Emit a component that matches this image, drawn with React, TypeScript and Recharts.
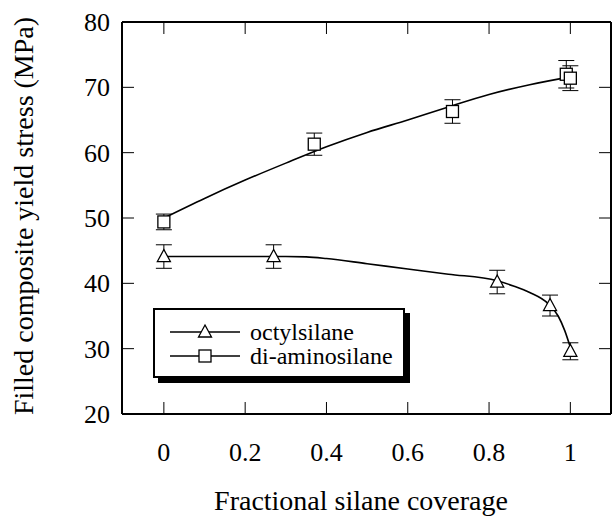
import React from 'react';
import { ComposedChart, Line, Scatter, ErrorBar, XAxis, YAxis } from 'recharts';

// measured points (fractional coverage, yield stress MPa, +/- error)
const octylX = [0, 0.27, 0.82, 0.95, 1.0];
const octylY = [44.1, 44.1, 40.2, 36.6, 29.6];
const octylErr = [1.8, 1.8, 1.8, 1.6, 1.3];

const aminoX = [0, 0.37, 0.71, 0.99, 1.0];
const aminoY = [49.4, 61.3, 66.3, 72.0, 71.4];
const aminoErr = [1.2, 1.7, 1.8, 2.1, 1.9];

// fitted curves
const octylFitX = [0, 0.1, 0.2, 0.3, 0.35, 0.4, 0.5, 0.6, 0.7, 0.82, 0.86, 0.9, 0.945, 0.97, 0.986, 1.0];
const octylFitY = [44.1, 44.1, 44.1, 44.1, 44.05, 43.8, 43.0, 42.2, 41.4, 40.4, 39.6, 38.6, 36.9, 35.0, 32.8, 30.2];

const aminoFitX = [0, 0.1, 0.2, 0.3, 0.4, 0.5, 0.6, 0.7, 0.8, 0.9, 1.0];
const aminoFitY = [50.0, 53.0, 55.8, 58.4, 60.9, 63.1, 65.0, 67.0, 68.9, 70.4, 71.6];

const xTicks = [0, 0.2, 0.4, 0.6, 0.8, 1];
const yTicks = [20, 30, 40, 50, 60, 70, 80];

const seriesNames = ['octylsilane', 'di-aminosilane'];
const xTitle = 'Fractional silane coverage';
const yTitle = 'Filled composite yield stress (MPa)';

const FONT = '"Liberation Serif", "Times New Roman", serif';

const octylPoints = octylX.map((x, i) => ({ x, y: octylY[i], err: octylErr[i] }));
const aminoPoints = aminoX.map((x, i) => ({ x, y: aminoY[i], err: aminoErr[i] }));
const octylFit = octylFitX.map((x, i) => ({ x, y: octylFitY[i] }));
const aminoFit = aminoFitX.map((x, i) => ({ x, y: aminoFitY[i] }));

const Triangle = ({ cx, cy }: any) => {
    if (cx == null || cy == null) return null;
    return <path d={`M${cx},${cy - 7} L${cx + 6.5},${cy + 5} L${cx - 6.5},${cy + 5} Z`} fill="#fff" stroke="#000" strokeWidth={1.3} />;
};

const Square = ({ cx, cy }: any) => {
    if (cx == null || cy == null) return null;
    return <rect x={cx - 6} y={cy - 6} width={12} height={12} fill="#fff" stroke="#000" strokeWidth={1.3} />;
};

const BottomTick = ({ x, y, payload }: any) => (
    <g>
        <line x1={x} y1={y} x2={x} y2={y - 12} stroke="#000" strokeWidth={1} />
        <text x={x} y={y + 47} textAnchor="middle" fontFamily={FONT} fontSize={26} fill="#000">{payload.value}</text>
    </g>
);

const TopTick = ({ x, y }: any) => <line x1={x} y1={y} x2={x} y2={y + 12} stroke="#000" strokeWidth={1} />;

const LeftTick = ({ x, y, payload }: any) => (
    <g>
        <line x1={x} y1={y} x2={x + 12} y2={y} stroke="#000" strokeWidth={1} />
        <text x={x - 12} y={y} dy="0.35em" textAnchor="end" fontFamily={FONT} fontSize={26} fill="#000">{payload.value}</text>
    </g>
);

const RightTick = ({ x, y }: any) => <line x1={x} y1={y} x2={x - 12} y2={y} stroke="#000" strokeWidth={1} />;

// legend drawn as a plain box over the plot, as in the figure
const LegendBox = () => (
    <div style={{ position: 'absolute', left: 153, top: 308, width: 252, height: 70, border: '2px solid #000', boxShadow: '5px 5px 0 #000', background: '#fff', boxSizing: 'border-box', paddingTop: 10 }}>
        {seriesNames.map((name, i) => (
            <div key={name} style={{ display: 'flex', alignItems: 'center', height: 24 }}>
                <svg width={88} height={24} style={{ marginLeft: 13 }}>
                    <line x1={2} y1={12} x2={72} y2={12} stroke="#000" strokeWidth={1.3} />
                    {i === 0 ? <Triangle cx={37} cy={12} /> : <Square cx={37} cy={12} />}
                </svg>
                <span style={{ fontFamily: FONT, fontSize: 24, lineHeight: '24px', color: '#000', marginLeft: -6 }}>{name}</span>
            </div>
        ))}
    </div>
);

export default function App() {
    return (
        <div style={{ position: 'absolute', left: 0, top: 0, width: 613, height: 516, background: '#fff', overflow: 'hidden' }}>
            <ComposedChart width={613} height={516} margin={{ top: 0, right: 1, bottom: 0, left: 0 }}>
                <XAxis
                    xAxisId="bottom"
                    dataKey="x"
                    type="number"
                    domain={[-0.103, 1.1]}
                    ticks={xTicks}
                    allowDataOverflow
                    height={102}
                    tickSize={0}
                    tickMargin={0}
                    tickLine={false}
                    axisLine={{ stroke: '#000', strokeWidth: 2 }}
                    tick={<BottomTick />}
                    label={{ content: () => <text x={361} y={510} textAnchor="middle" fontFamily={FONT} fontSize={28} fill="#000">{xTitle}</text> }}
                />
                <XAxis
                    xAxisId="top"
                    orientation="top"
                    dataKey="x"
                    type="number"
                    domain={[-0.103, 1.1]}
                    ticks={xTicks}
                    allowDataOverflow
                    height={22}
                    tickSize={0}
                    tickMargin={0}
                    tickLine={false}
                    axisLine={{ stroke: '#000', strokeWidth: 2 }}
                    tick={<TopTick />}
                />
                <YAxis
                    yAxisId="left"
                    type="number"
                    domain={[20, 80]}
                    ticks={yTicks}
                    allowDataOverflow
                    width={122}
                    tickSize={0}
                    tickMargin={0}
                    tickLine={false}
                    axisLine={{ stroke: '#000', strokeWidth: 2 }}
                    tick={<LeftTick />}
                    label={{ content: () => <text x={33} y={216} transform="rotate(-90 33 216)" textAnchor="middle" fontFamily={FONT} fontSize={28} fill="#000">{yTitle}</text> }}
                />
                <YAxis
                    yAxisId="right"
                    orientation="right"
                    type="number"
                    domain={[20, 80]}
                    ticks={yTicks}
                    allowDataOverflow
                    width={1}
                    tickSize={0}
                    tickMargin={0}
                    tickLine={false}
                    axisLine={{ stroke: '#000', strokeWidth: 2 }}
                    tick={<RightTick />}
                />
                <Line xAxisId="bottom" yAxisId="left" data={octylFit} dataKey="y" type="monotone" stroke="#000" strokeWidth={1.6} dot={false} isAnimationActive={false} />
                <Line xAxisId="bottom" yAxisId="left" data={aminoFit} dataKey="y" type="monotone" stroke="#000" strokeWidth={1.6} dot={false} isAnimationActive={false} />
                <Scatter xAxisId="bottom" yAxisId="left" data={octylPoints} dataKey="y" name={seriesNames[0]} shape={<Triangle />} isAnimationActive={false}>
                    <ErrorBar dataKey="err" direction="y" width={8} stroke="#000" strokeWidth={1} />
                </Scatter>
                <Scatter xAxisId="bottom" yAxisId="left" data={aminoPoints} dataKey="y" name={seriesNames[1]} shape={<Square />} isAnimationActive={false}>
                    <ErrorBar dataKey="err" direction="y" width={8} stroke="#000" strokeWidth={1} />
                </Scatter>
            </ComposedChart>
            <LegendBox />
        </div>
    );
}
